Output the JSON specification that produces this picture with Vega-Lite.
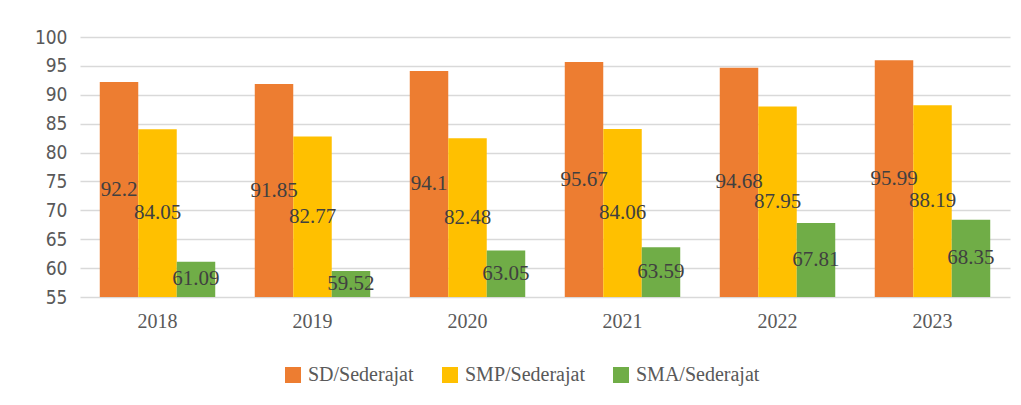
{
  "$schema": "https://vega.github.io/schema/vega-lite/v6.json",
  "autosize": {"type": "none"},
  "width": 930,
  "height": 260,
  "padding": {"left": 80, "top": 37, "right": 11, "bottom": 108},
  "background": "white",
  "config": {
    "view": {"stroke": null},
    "font": "'Liberation Serif', 'Times New Roman', serif",
    "legend": {"labelFont": "'Liberation Serif', 'Times New Roman', serif"},
    "text": {"font": "'Liberation Serif', 'Times New Roman', serif"}
  },
  "data": {
    "values": [
      {"year": "2018", "level": "SD/Sederajat", "value": 92.2},
      {"year": "2018", "level": "SMP/Sederajat", "value": 84.05},
      {"year": "2018", "level": "SMA/Sederajat", "value": 61.09},
      {"year": "2019", "level": "SD/Sederajat", "value": 91.85},
      {"year": "2019", "level": "SMP/Sederajat", "value": 82.77},
      {"year": "2019", "level": "SMA/Sederajat", "value": 59.52},
      {"year": "2020", "level": "SD/Sederajat", "value": 94.1},
      {"year": "2020", "level": "SMP/Sederajat", "value": 82.48},
      {"year": "2020", "level": "SMA/Sederajat", "value": 63.05},
      {"year": "2021", "level": "SD/Sederajat", "value": 95.67},
      {"year": "2021", "level": "SMP/Sederajat", "value": 84.06},
      {"year": "2021", "level": "SMA/Sederajat", "value": 63.59},
      {"year": "2022", "level": "SD/Sederajat", "value": 94.68},
      {"year": "2022", "level": "SMP/Sederajat", "value": 87.95},
      {"year": "2022", "level": "SMA/Sederajat", "value": 67.81},
      {"year": "2023", "level": "SD/Sederajat", "value": 95.99},
      {"year": "2023", "level": "SMP/Sederajat", "value": 88.19},
      {"year": "2023", "level": "SMA/Sederajat", "value": 68.35}
    ]
  },
  "encoding": {
    "x": {
      "field": "year", "type": "nominal",
      "scale": {"paddingInner": 0.255, "paddingOuter": 0.1275},
      "axis": {
        "title": null, "labelAngle": 0, "domain": false, "ticks": false,
        "labelFont": "'Liberation Serif', 'Times New Roman', serif", "labelFontSize": 20, "labelColor": "#595959",
        "labelPadding": 14
      }
    },
    "xOffset": {
      "field": "level", "type": "nominal",
      "sort": ["SD/Sederajat", "SMP/Sederajat", "SMA/Sederajat"],
      "scale": {"paddingInner": 0, "paddingOuter": 0}
    }
  },
  "layer": [
    {
      "mark": {"type": "bar"},
      "encoding": {
        "y": {
          "field": "value", "type": "quantitative",
          "scale": {"domain": [55, 100], "zero": false, "nice": false},
          "axis": {
            "title": null, "domain": false, "ticks": false,
            "values": [55, 60, 65, 70, 75, 80, 85, 90, 95, 100],
            "labelOverlap": false,
            "grid": true, "gridColor": "#d9d9d9", "gridWidth": 1.5,
            "labelFont": "'Liberation Sans Narrow', 'DejaVu Sans Condensed', sans-serif", "labelFontSize": 19, "labelColor": "#595959",
            "labelPadding": 13
          }
        },
        "y2": {"datum": 55},
        "color": {
          "field": "level", "type": "nominal",
          "sort": ["SD/Sederajat", "SMP/Sederajat", "SMA/Sederajat"],
          "scale": {
            "domain": ["SD/Sederajat", "SMP/Sederajat", "SMA/Sederajat"],
            "range": ["#ED7D31", "#FFC000", "#70AD47"]
          },
          "legend": {
            "title": null, "orient": "none", "direction": "horizontal",
            "legendX": 203, "legendY": 328,
            "symbolType": "square", "symbolSize": 256, "symbolStrokeWidth": 0,
            "labelFont": "'Liberation Serif', 'Times New Roman', serif", "labelFontSize": 20, "labelColor": "#595959",
            "labelOffset": 5, "columnPadding": 26, "padding": 0
          }
        }
      }
    },
    {
      "transform": [{"calculate": "(datum.value + 55) / 2", "as": "mid"}],
      "mark": {"type": "text", "font": "'Liberation Serif', 'Times New Roman', serif", "fontSize": 21, "color": "#404040", "baseline": "middle", "align": "center"},
      "encoding": {
        "y": {
          "field": "mid", "type": "quantitative",
          "scale": {"domain": [55, 100], "zero": false, "nice": false},
          "axis": {
            "title": null, "domain": false, "ticks": false,
            "values": [55, 60, 65, 70, 75, 80, 85, 90, 95, 100],
            "labelOverlap": false,
            "grid": true, "gridColor": "#d9d9d9", "gridWidth": 1.5,
            "labelFont": "'Liberation Sans Narrow', 'DejaVu Sans Condensed', sans-serif", "labelFontSize": 19, "labelColor": "#595959",
            "labelPadding": 13
          }
        },
        "text": {"field": "value", "type": "quantitative"}
      }
    }
  ]
}
